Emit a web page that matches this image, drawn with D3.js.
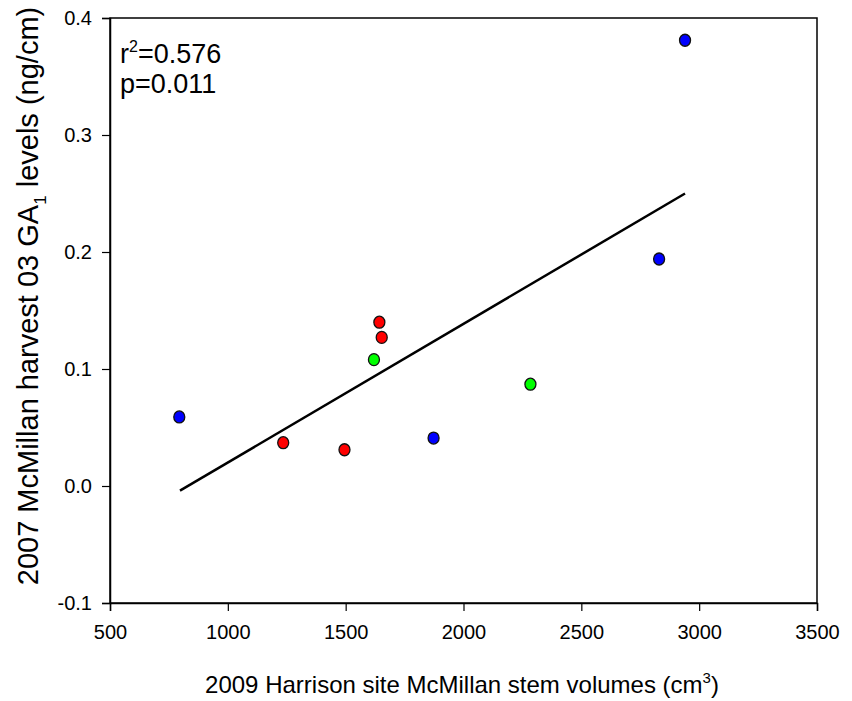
<!DOCTYPE html>
<html>
<head>
<meta charset="utf-8">
<script src="https://cdn.jsdelivr.net/npm/d3@7"></script>
<style>
    body { margin: 0; background: #fff; }
    text { font-family: "Liberation Sans", Arial, sans-serif; fill: #000; }
</style>
</head>
<body>
<script>
// stem volume (cm3) vs GA1 level (ng/cm), one entry per tree
let stemVolumes = [794, 1873, 2830, 2940, 1235, 1495, 1643, 1653, 1620, 2284];
let ga1Levels = [0.059, 0.041, 0.194, 0.381, 0.037, 0.031, 0.140, 0.127, 0.108, 0.087];
let groups = ["blue", "blue", "blue", "blue", "red", "red", "red", "red", "green", "green"];

// regression line end points
let fitX = [797, 2940];
let fitY = [-0.004, 0.250];

let xTicks = [500, 1000, 1500, 2000, 2500, 3000, 3500];
let yTicks = [-0.1, 0.0, 0.1, 0.2, 0.3, 0.4];

let groupColors = { red: "#ff0000", green: "#00ff00", blue: "#0000ff" };

let width = 852,
    height = 701,
    margin = { top: 18, right: 35, bottom: 98, left: 110 };

let x = d3.scaleLinear()
    .domain([500, 3500])
    .range([margin.left, width - margin.right]);

let y = d3.scaleLinear()
    .domain([-0.1, 0.4])
    .range([height - margin.bottom, margin.top]);

let svg = d3.select("body").append("svg")
    .attr("width", width)
    .attr("height", height);

// frame (top and right sides have no ticks)
svg.append("rect")
    .attr("x", x(500))
    .attr("y", y(0.4))
    .attr("width", x(3500) - x(500))
    .attr("height", y(-0.1) - y(0.4))
    .attr("fill", "none")
    .attr("stroke", "#000")
    .attr("stroke-width", 1.5);

let xAxis = svg.append("g")
    .attr("transform", "translate(0," + y(-0.1) + ")")
    .call(d3.axisBottom(x).tickValues(xTicks).tickFormat(d3.format("d")).tickSizeOuter(0).tickSize(8).tickPadding(14));

// plain hyphen for negatives, as in the original
let yFormat = function (d) { return d3.format(".1f")(d).replace("−", "-"); };

let yAxis = svg.append("g")
    .attr("transform", "translate(" + x(500) + ",0)")
    .call(d3.axisLeft(y).tickValues(yTicks).tickFormat(yFormat).tickSizeOuter(0).tickSize(8).tickPadding(10));

[xAxis, yAxis].forEach(function (a) {
    a.select(".domain").attr("stroke-width", 1.5);
    a.selectAll(".tick line").attr("stroke-width", 1.2);
    a.selectAll(".tick text")
        .style("font-family", "'Liberation Sans', Arial, sans-serif")
        .style("font-size", "20px")
        .attr("fill", "#000");
});

// regression line
svg.append("line")
    .attr("x1", x(fitX[0]))
    .attr("y1", y(fitY[0]))
    .attr("x2", x(fitX[1]))
    .attr("y2", y(fitY[1]))
    .attr("stroke", "#000")
    .attr("stroke-width", 2.5);

svg.append("g").selectAll("ellipse")
    .data(stemVolumes)
    .enter().append("ellipse")
    .attr("cx", function (d) { return x(d); })
    .attr("cy", function (d, i) { return y(ga1Levels[i]); })
    .attr("rx", 5.5)
    .attr("ry", 6)
    .attr("fill", function (d, i) { return groupColors[groups[i]]; })
    .attr("stroke", "#111")
    .attr("stroke-width", 1.3);

// stats
let stats = svg.append("text")
    .attr("x", 120)
    .attr("y", 63)
    .style("font-size", "27px");
stats.append("tspan").text("r");
stats.append("tspan").attr("dy", -11).style("font-size", "16px").text("2");
stats.append("tspan").attr("dy", 11).text("=0.576");

svg.append("text")
    .attr("x", 120)
    .attr("y", 93)
    .style("font-size", "27px")
    .text("p=0.011");

// axis titles
let xTitle = svg.append("text")
    .attr("x", 462)
    .attr("y", 693)
    .attr("text-anchor", "middle")
    .style("font-size", "24px");
xTitle.append("tspan").text("2009 Harrison site McMillan stem volumes (cm");
xTitle.append("tspan").attr("dy", -10).style("font-size", "15px").text("3");
xTitle.append("tspan").attr("dy", 10).text(")");

let yTitle = svg.append("text")
    .attr("transform", "translate(38,296)rotate(-90)")
    .attr("text-anchor", "middle")
    .style("font-size", "29px");
yTitle.append("tspan").text("2007 McMillan harvest 03 GA");
yTitle.append("tspan").attr("dy", 8).style("font-size", "17px").text("1");
yTitle.append("tspan").attr("dy", -8).text(" levels (ng/cm)");
</script>
</body>
</html>
